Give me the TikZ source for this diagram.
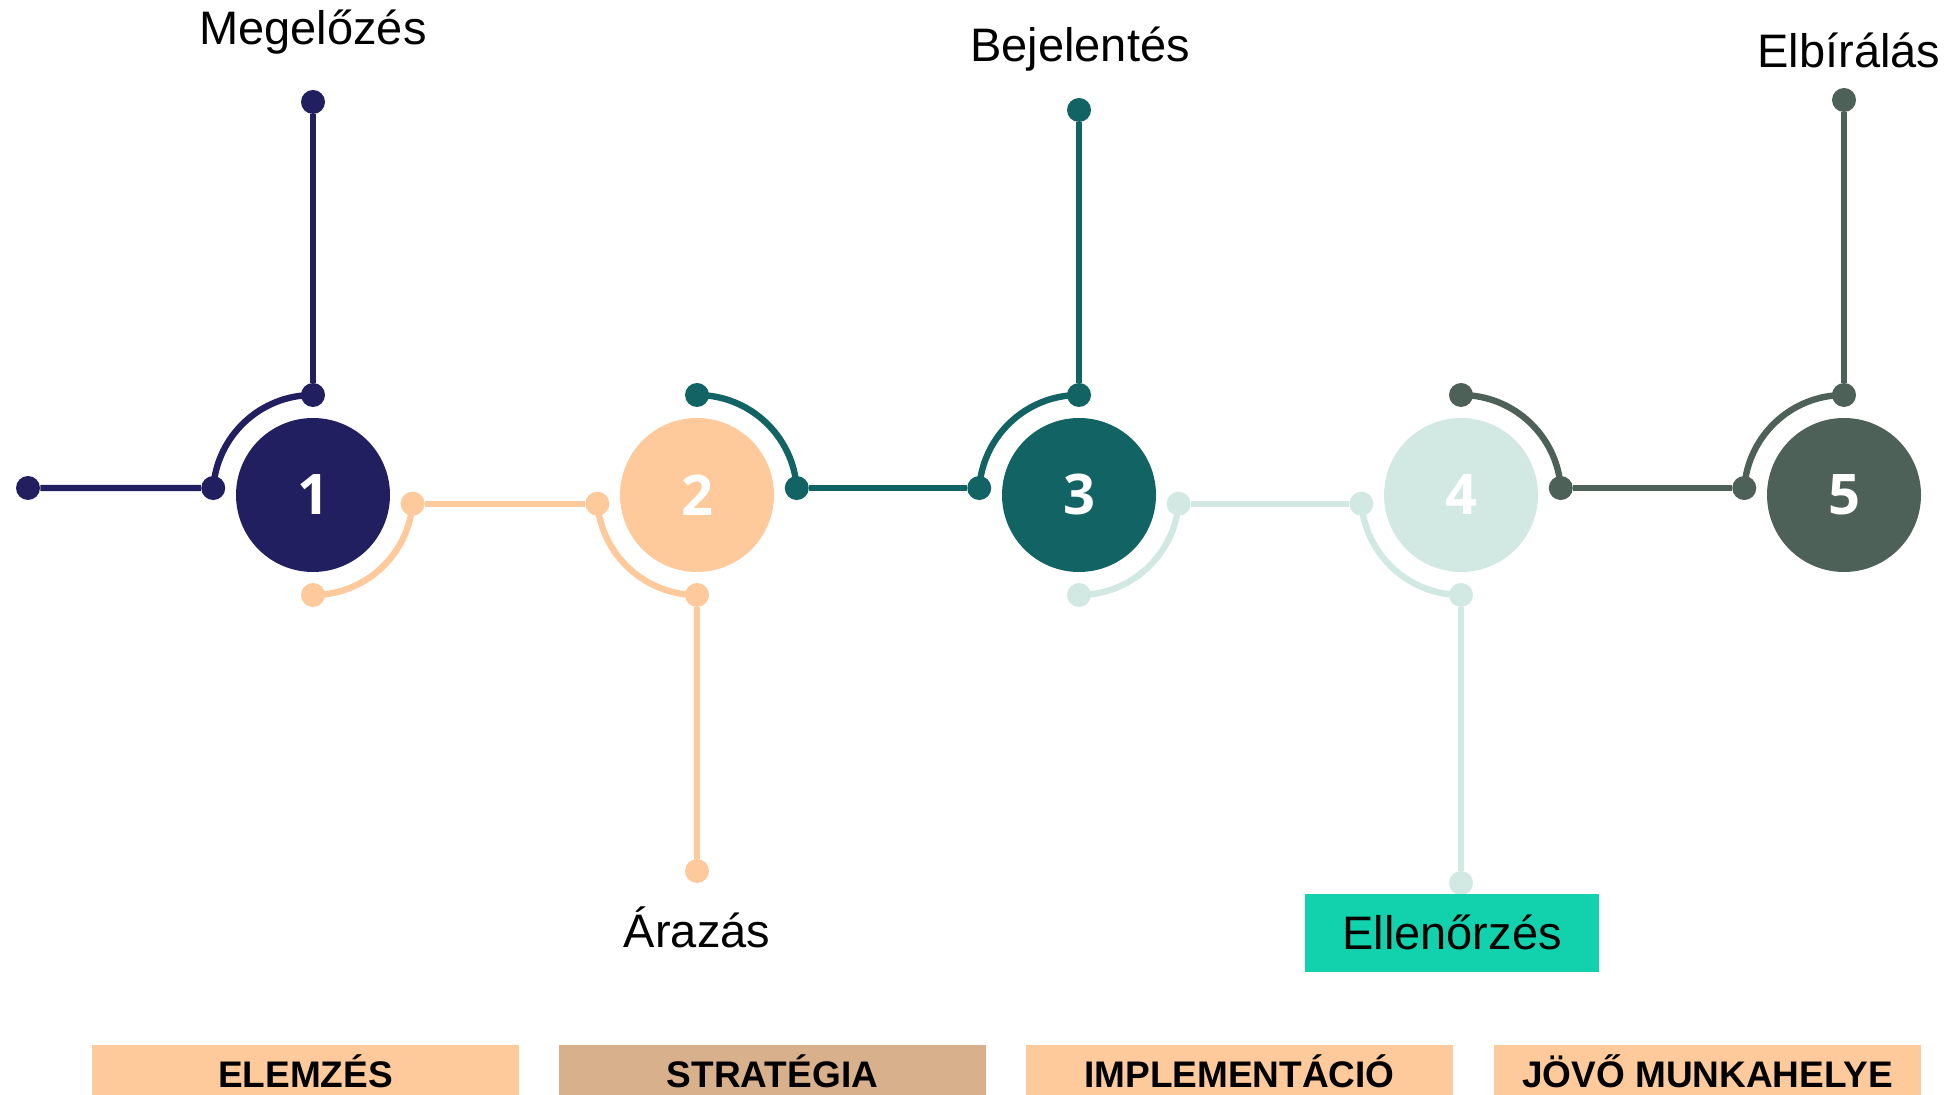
\documentclass[tikz,border=0pt]{standalone}
\usepackage{fontspec}
\setmainfont{Liberation Sans}
\newfontfamily\numfont{Open Sans}
\definecolor{cnavy}{HTML}{221F60}
\definecolor{cpeach}{HTML}{FECA9B}
\definecolor{cteal}{HTML}{126363}
\definecolor{cmint}{HTML}{D2E9E3}
\definecolor{cgrey}{HTML}{4E6159}
\definecolor{cbox}{HTML}{12D2AE}
\definecolor{ctan}{HTML}{D8B08C}
\tikzset{
  dot/.style={circle, fill=#1, draw=none, inner sep=0pt, minimum size=12pt},
  ln/.style={draw=#1, line width=3.2pt},
  bigc/.style={circle, fill=#1, draw=none, inner sep=0pt, minimum size=77pt, text=white,
    font=\numfont\bfseries\fontsize{28}{28}\selectfont},
  lbl/.style={anchor=base, inner sep=0pt, font=\fontsize{23.5}{27}\selectfont},
  barbox/.style={fill=#1, draw=none, inner sep=0pt, minimum width=213.5pt, minimum height=25pt,
    text height=17pt, text depth=0pt, font=\bfseries\fontsize{18.5}{20}\selectfont},
  okbox/.style={fill=cbox, draw=none, inner sep=0pt, minimum width=147pt, minimum height=39pt,
    text height=16.5pt, text depth=0pt, font=\fontsize{23.5}{27}\selectfont}
}
\begin{document}
\begin{tikzpicture}[x=0.5pt,y=-0.5pt]
\useasboundingbox (0,0) rectangle (1954,1095);

% big circles
\node[bigc=cnavy] (c1) at (313,495) {1};
\node[bigc=cpeach] (c2) at (697,495) {2};
\node[bigc=cteal] (c3) at (1079,495) {3};
\node[bigc=cmint] (c4) at (1461,495) {4};
\node[bigc=cgrey] (c5) at (1844,495) {5};

% arc end dots
\path (c1.center) ++(184:100) node[dot=cnavy] (c1ul) {};
\path (c1.center) ++(270:100) node[dot=cnavy] (c1t) {};
\path (c1.center) ++(5:100) node[dot=cpeach] (c1lr) {};
\path (c1.center) ++(90:100) node[dot=cpeach] (c1b) {};

\path (c2.center) ++(175:100) node[dot=cpeach] (c2ll) {};
\path (c2.center) ++(90:100) node[dot=cpeach] (c2b) {};
\path (c2.center) ++(-4:100) node[dot=cteal] (c2ur) {};
\path (c2.center) ++(-90:100) node[dot=cteal] (c2t) {};

\path (c3.center) ++(184:100) node[dot=cteal] (c3ul) {};
\path (c3.center) ++(270:100) node[dot=cteal] (c3t) {};
\path (c3.center) ++(5:100) node[dot=cmint] (c3lr) {};
\path (c3.center) ++(90:100) node[dot=cmint] (c3b) {};

\path (c4.center) ++(175:100) node[dot=cmint] (c4ll) {};
\path (c4.center) ++(90:100) node[dot=cmint] (c4b) {};
\path (c4.center) ++(-4:100) node[dot=cgrey] (c4ur) {};
\path (c4.center) ++(-90:100) node[dot=cgrey] (c4t) {};

\path (c5.center) ++(184:100) node[dot=cgrey] (c5ul) {};
\path (c5.center) ++(270:100) node[dot=cgrey] (c5t) {};

% arcs
\draw[ln=cnavy] (c1ul.center) arc[start angle=184, end angle=270, radius=100];
\draw[ln=cpeach] (c1lr.center) arc[start angle=5, end angle=90, radius=100];
\draw[ln=cpeach] (c2ll.center) arc[start angle=175, end angle=90, radius=100];
\draw[ln=cteal] (c2ur.center) arc[start angle=-4, end angle=-90, radius=100];
\draw[ln=cteal] (c3ul.center) arc[start angle=184, end angle=270, radius=100];
\draw[ln=cmint] (c3lr.center) arc[start angle=5, end angle=90, radius=100];
\draw[ln=cmint] (c4ll.center) arc[start angle=175, end angle=90, radius=100];
\draw[ln=cgrey] (c4ur.center) arc[start angle=-4, end angle=-90, radius=100];
\draw[ln=cgrey] (c5ul.center) arc[start angle=184, end angle=270, radius=100];

% far ends
\node[dot=cnavy] (n0) at (28,488) {};
\node[dot=cnavy] (t1) at (313,102) {};
\node[dot=cpeach] (b2) at (697,871) {};
\node[dot=cteal] (t3) at (1079,110) {};
\node[dot=cmint] (b4) at (1461,883) {};
\node[dot=cgrey] (t5) at (1844,100) {};

% horizontal connectors
\draw[ln=cnavy] (n0) -- (c1ul);
\draw[ln=cpeach] (c1lr) -- (c2ll);
\draw[ln=cteal] (c2ur) -- (c3ul);
\draw[ln=cmint] (c3lr) -- (c4ll);
\draw[ln=cgrey] (c4ur) -- (c5ul);

% vertical connectors
\draw[ln=cnavy] (c1t) -- (t1);
\draw[ln=cpeach] (c2b) -- (b2);
\draw[ln=cteal] (c3t) -- (t3);
\draw[ln=cmint] (c4b) -- (b4);
\draw[ln=cgrey] (c5t) -- (t5);

% labels
\node[lbl] (l1) at (313,45) {Megelőzés};
\node[lbl] (l3) at (1080,62) {Bejelentés};
\node[lbl] (l5) at (1849,68) {Elbírálás};
\node[lbl] (l2) at (697,947) {Árazás};
\node[okbox] (l4) at (1452,933) {Ellenőrzés};

% bottom bars
\node[barbox=cpeach] (p1) at (305.5,1070) {ELEMZÉS};
\node[barbox=ctan] (p2) at (772.5,1070) {STRATÉGIA};
\node[barbox=cpeach] (p3) at (1239.5,1070) {IMPLEMENTÁCIÓ};
\node[barbox=cpeach] (p4) at (1707.5,1070) {JÖVŐ MUNKAHELYE};
\end{tikzpicture}
\end{document}
